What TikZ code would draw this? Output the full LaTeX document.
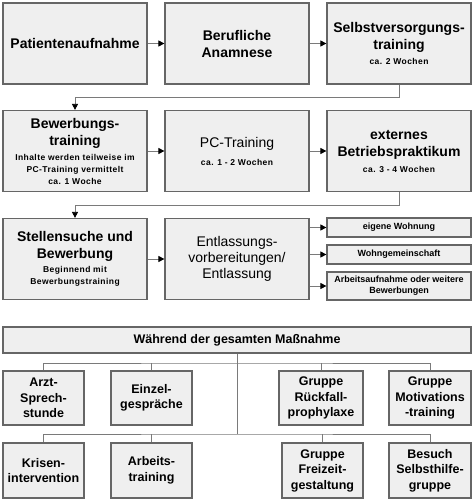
\documentclass[tikz,border=0pt]{standalone}
\usepackage{fontspec}
\setmainfont{Liberation Sans}
\newfontfamily\wideface[LetterSpace=5]{Liberation Sans}
\usetikzlibrary{positioning, arrows.meta}
\definecolor{boxFill}{HTML}{EFEFEF}
\definecolor{boxLine}{HTML}{666666}
\definecolor{wireGray}{HTML}{7A7A7A}
\newcommand{\subline}[1]{{\wideface\fontsize{8.5}{10}\selectfont\bfseries #1}}

\begin{document}
\begin{tikzpicture}[x=1pt, y=-1pt,
  box/.style={draw=boxLine, line width=1.2pt, fill=boxFill, align=center, inner sep=0pt},
  stage/.style={box, minimum width=144pt, minimum height=81pt, font=\fontsize{14}{17}\selectfont\bfseries},
  outcome/.style={box, minimum width=144pt, minimum height=19pt, font=\fontsize{9}{11}\selectfont\bfseries},
  offer/.style={box, minimum height=54pt, font=\fontsize{12.5}{15.5}\selectfont\bfseries},
  flow/.style={draw=wireGray, line width=0.8pt, -{Triangle[length=6pt, width=6pt, black]}},
  wire/.style={draw=wireGray, line width=0.8pt},
]
  \useasboundingbox[fill=white] (0,0) rectangle (473,500);

  \node[stage] (adm)    at (75,43.5)  {Patientenaufnahme};
  \node[stage] (anam)   at (237,43.5) {Berufliche\\Anamnese};
  \node[stage] (self)   at (399,43.5) {Selbstversorgungs-\\training\\[-2pt]\subline{ca. 2 Wochen}};
  \node[stage] (apply)  at (75,151)   {Bewerbungs-\\training\\[-2pt]\subline{Inhalte werden teilweise im}\\[-5pt]
                                       \subline{PC-Training vermittelt}\\[-5pt]\subline{ca. 1 Woche}};
  \node[stage] (pc)     at (237,151)  {{\mdseries PC-Training}\\[1pt]\subline{ca. 1 - 2 Wochen}};
  \node[stage] (intern) at (399,151)  {externes\\Betriebspraktikum\\[-1pt]\subline{ca. 3 - 4 Wochen}};
  \node[stage] (search) at (75,259)   {Stellensuche und\\Bewerbung\\[-3pt]\subline{Beginnend mit}\\[-5pt]\subline{Bewerbungstraining}};
  \node[stage, font=\fontsize{14}{16}\selectfont] (exit) at (237,259) {Entlassungs-\\vorbereitungen/\\Entlassung};
  \node[outcome] (home)   at (399,227.5) {eigene Wohnung};
  \node[outcome] (shared) at (399,254.5) {Wohngemeinschaft};
  \node[outcome, minimum height=28pt] (job) at (399,286) {Arbeitsaufnahme oder weitere\\Bewerbungen};

  \draw[flow] (adm) -- (anam);
  \draw[flow] (anam) -- (self);
  \draw[flow] (self.south) -- ++(0,13) -| (apply.north);
  \draw[flow] (apply) -- (pc);
  \draw[flow] (pc) -- (intern);
  \draw[flow] (intern.south) -- ++(0,13) -| (search.north);
  \draw[flow] (search) -- (exit);
  \draw[flow] (exit.east |- home) -- (home);
  \draw[flow] (exit.east |- shared) -- (shared);
  \draw[flow] (exit.east |- job) -- (job);

  \node[box, minimum width=468pt, minimum height=26pt, font=\fontsize{12.5}{15}\selectfont\bfseries]
    (during) at (237,340) {Während der gesamten Maßnahme};
  \node[offer, minimum width=81pt] (doc)      at (43.5,398)  {Arzt-\\Sprech-\\stunde};
  \node[offer, minimum width=81pt] (single)   at (151.5,398) {Einzel-\\gespräche};
  \node[offer, minimum width=84pt] (relapse)  at (321,398)   {Gruppe\\Rückfall-\\prophylaxe};
  \node[offer, minimum width=82pt] (motiv)    at (430,398)   {Gruppe\\Motivations\\-training};
  \node[offer, minimum width=81pt, minimum height=55pt] (crisis)   at (43.5,470.5)  {Krisen-\\intervention};
  \node[offer, minimum width=81pt, minimum height=55pt] (worktr)   at (151.5,470.5) {Arbeits-\\training};
  \node[offer, minimum width=81pt, minimum height=55pt] (leisure)  at (322.5,470.5) {Gruppe\\Freizeit-\\gestaltung};
  \node[offer, minimum width=82pt, minimum height=55pt] (selfhelp) at (430,470.5)   {Besuch\\Selbsthilfe-\\gruppe};

  \coordinate (upbus)  at (237,363);
  \coordinate (lowbus) at (237,434);
  \draw[wire] (during.south) -- (lowbus);
  \draw[wire] (doc.north) |- (upbus) -| (motiv.north);
  \draw[wire] (single.north) -- (single.north |- upbus);
  \draw[wire] (relapse.north) -- (relapse.north |- upbus);
  \draw[wire] (crisis.north) |- (lowbus) -| (selfhelp.north);
  \draw[wire] (worktr.north) -- (worktr.north |- lowbus);
  \draw[wire] (leisure.north) -- (leisure.north |- lowbus);
\end{tikzpicture}
\end{document}
